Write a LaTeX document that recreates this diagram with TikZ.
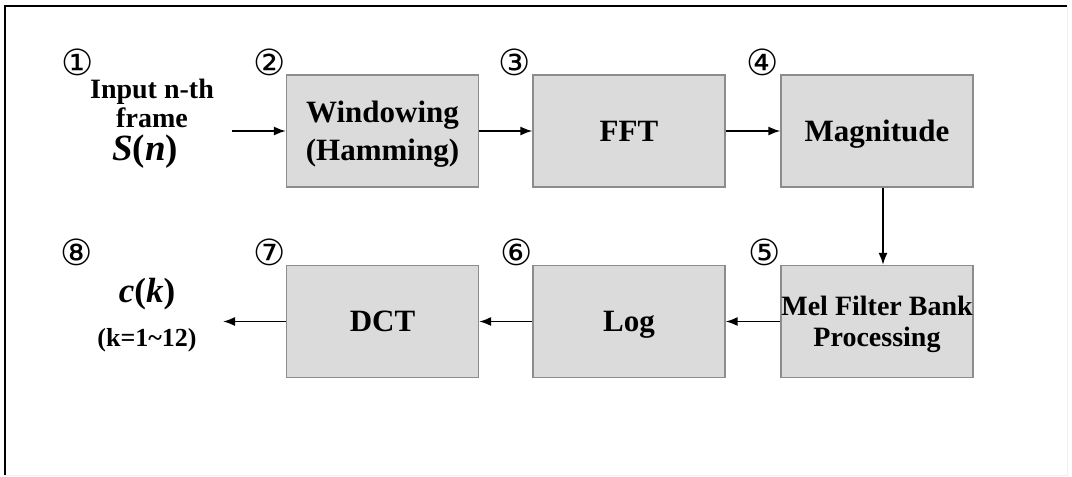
\documentclass[tikz,border=0pt]{standalone}
\usepackage{fontspec}
\setmainfont{Liberation Serif}
\newfontfamily\circfont{DejaVu Sans}
\usetikzlibrary{arrows.meta}

\tikzset{
  blk/.style={draw=black!45, line width=1.3pt, fill=black!14, minimum width=192pt, minimum height=112pt,
    inner sep=0pt, text depth=0pt, align=center, font=\fontsize{31}{38}\selectfont\bfseries},
  num/.style={inner sep=0pt, font=\circfont\fontsize{36}{36}\selectfont},
  lbl/.style={inner sep=0pt, align=center, font=\fontsize{28}{29}\selectfont\bfseries},
  flow/.style={line width=1.6pt, -{Latex[length=12pt,width=9pt]}}
}

\begin{document}
\begin{tikzpicture}[x=1pt,y=-1pt]
\useasboundingbox (0,0) rectangle (1072,477);
\draw[black!6] (1067,6) -- (1067,475) -- (5,475);
\draw[line width=2pt] (5,475) -- (5,6) -- (1067,6);

\node[blk] (win) at (382.5,131) {Windowing\\(Hamming)};
\node[blk] (fft) at (629,131) {FFT};
\node[blk] (mag) at (877,131) {Magnitude};
\node[blk, font=\fontsize{28}{31}\selectfont\bfseries] (mel) at (877,321.5) {Mel Filter Bank\\Processing};
\node[blk] (log) at (629,321.5) {Log};
\node[blk] (dct) at (382.5,321.5) {DCT};

\node[lbl] (inp) at (152,103) {Input n-th\\frame};
\node[inner sep=0pt, font=\fontsize{37}{37}\selectfont\bfseries] (sn) at (145,152) {\textit{S}(\textit{n})};
\node[inner sep=0pt, font=\fontsize{35}{35}\selectfont\bfseries] (ck) at (147,294) {\textit{c}(\textit{k})};
\node[inner sep=0pt, font=\fontsize{26}{26}\selectfont\bfseries] (kr) at (147,340) {(k=1\textasciitilde12)};

\node[num] (n1) at (78,62) {①};
\node[num] (n2) at (270,62) {②};
\node[num] (n3) at (515,62) {③};
\node[num] (n4) at (763,62) {④};
\node[num] (n5) at (765,252) {⑤};
\node[num] (n6) at (517,252) {⑥};
\node[num] (n7) at (270,252) {⑦};
\node[num] (n8) at (77,252) {⑧};

\coordinate (cin) at (232,131);
\coordinate (cout) at (223,321.5);

\draw[flow] (cin) -- (win);
\draw[flow] (win) -- (fft);
\draw[flow] (fft) -- (mag);
\draw[flow] ([xshift=6pt]mag.south) -- ([xshift=6pt]mel.north);
\draw[flow] (mel) -- (log);
\draw[flow] (log) -- (dct);
\draw[flow] (dct) -- (cout);
\end{tikzpicture}
\end{document}
